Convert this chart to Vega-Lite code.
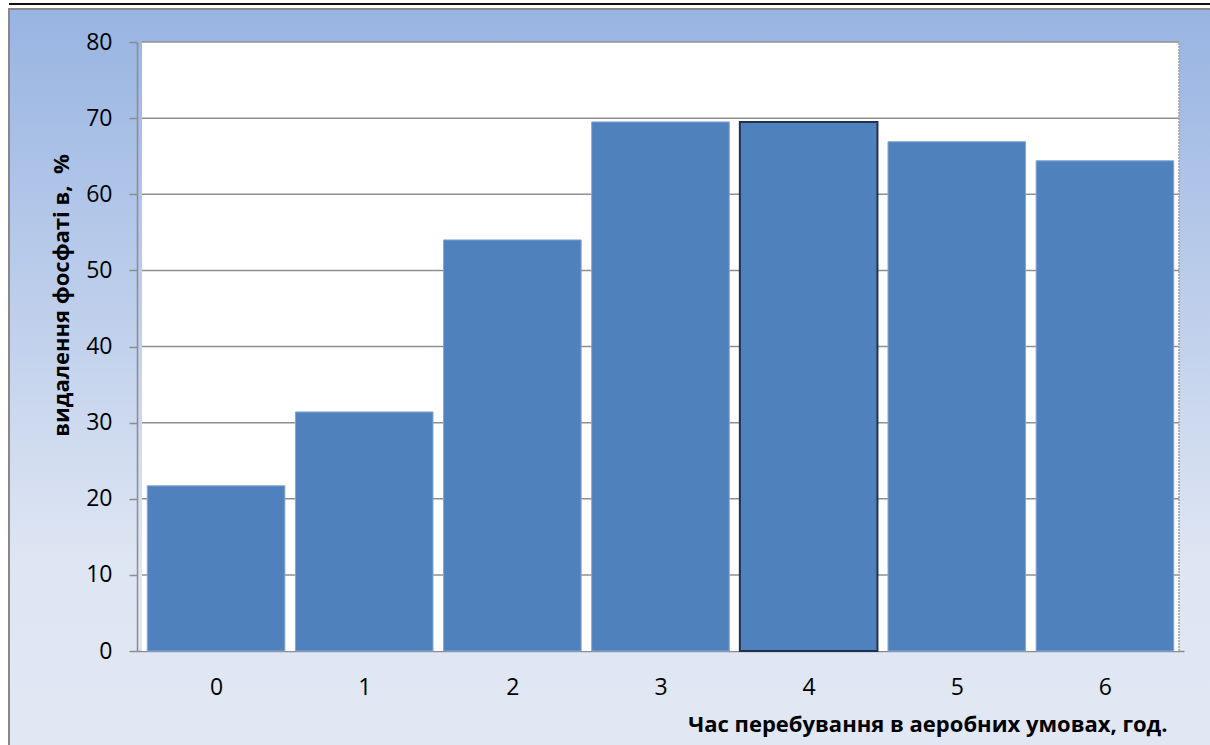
{
  "$schema": "https://vega.github.io/schema/vega-lite/v6.json",
  "width": 1210,
  "height": 745,
  "autosize": "none",
  "padding": {"left": 9, "top": 9, "right": 0, "bottom": 0},
  "background": "white",
  "datasets": {
    "removal": [
      {"hour": 0, "removal": 21.7},
      {"hour": 1, "removal": 31.4},
      {"hour": 2, "removal": 54.0},
      {"hour": 3, "removal": 69.5},
      {"hour": 4, "removal": 69.5},
      {"hour": 5, "removal": 66.9},
      {"hour": 6, "removal": 64.4}
    ],
    "gridlines": [
      {"level": 10}, {"level": 20}, {"level": 30}, {"level": 40},
      {"level": 50}, {"level": 60}, {"level": 70}, {"level": 80}
    ],
    "plotarea": [{"area": "plot"}]
  },
  "config": {
    "view": {
      "fill": {
        "gradient": "linear",
        "x1": 0, "y1": 0, "x2": 0, "y2": 1,
        "stops": [
          {"offset": 0, "color": "#98b4e2"},
          {"offset": 0.75, "color": "#dfe6f3"},
          {"offset": 1, "color": "#e1e8f4"}
        ]
      },
      "stroke": "#888888",
      "strokeWidth": 2
    },
    "font": "Open Sans"
  },
  "layer": [
    {
      "data": {"name": "plotarea"},
      "mark": {"type": "rect", "fill": "white", "stroke": null},
      "encoding": {
        "x": {"datum": -0.5, "type": "quantitative"},
        "x2": {"datum": 6.5},
        "y": {"datum": 0, "type": "quantitative"},
        "y2": {"datum": 80}
      }
    },
    {
      "data": {"name": "gridlines"},
      "mark": {"type": "rule", "color": "#8f8f8f", "strokeWidth": 1.5},
      "encoding": {
        "x": {"datum": -0.5, "type": "quantitative"},
        "x2": {"datum": 6.5},
        "y": {"field": "level", "type": "quantitative", "title": "видалення фосфаті в, \u00a0%"}
      }
    },
    {
      "data": {"name": "plotarea"},
      "mark": {"type": "rule", "color": "#a0a0a0", "strokeWidth": 1.5, "strokeDash": [2, 1]},
      "encoding": {
        "x": {"datum": 6.5, "type": "quantitative"},
        "y": {"datum": 0, "type": "quantitative"},
        "y2": {"datum": 80}
      }
    },
    {
      "data": {"name": "removal"},
      "mark": {"type": "bar", "width": 137.6, "fill": "#4f81bd"},
      "encoding": {
        "x": {
          "field": "hour",
          "type": "quantitative",
          "scale": {"domain": [-0.5, 6.5], "range": [128, 1175], "nice": false, "zero": false},
          "axis": {
            "title": "Час перебування в аеробних умовах, год.",
            "offset": -103,
            "grid": false,
            "values": [0, 1, 2, 3, 4, 5, 6],
            "format": "d",
            "ticks": false,
            "domainColor": "#8c8c8c",
            "domainWidth": 1.5,
            "labelFont": "Open Sans",
            "labelFontSize": 23,
            "labelColor": "black",
            "labelPadding": 25,
            "labelFlush": false,
            "labelOverlap": false,
            "titleFont": "Open Sans",
            "titleFontSize": 22,
            "titleFontWeight": "bold",
            "titleColor": "black",
            "titleX": 1158,
            "titleY": 80,
            "titleAlign": "right",
            "titleBaseline": "alphabetic",
            "titleAngle": 0
          }
        },
        "y": {
          "field": "removal",
          "type": "quantitative",
          "scale": {"domain": [0, 80], "range": [642, 33], "nice": false, "zero": true},
          "axis": {
            "title": "видалення фосфаті в, \u00a0%",
            "offset": -128,
            "grid": false,
            "values": [0, 10, 20, 30, 40, 50, 60, 70, 80],
            "domainColor": "#8c8c8c",
            "domainWidth": 1.5,
            "tickColor": "#8c8c8c",
            "tickSize": 8,
            "tickWidth": 1.5,
            "labelFont": "Open Sans",
            "labelFontSize": 23,
            "labelColor": "black",
            "labelPadding": 17,
            "labelFlush": false,
            "labelOverlap": false,
            "titleFont": "Open Sans",
            "titleFontSize": 22,
            "titleFontWeight": "bold",
            "titleColor": "black",
            "titleX": -76,
            "titleY": 286,
            "titleAlign": "center",
            "titleBaseline": "middle",
            "titleAngle": 270
          }
        },
        "stroke": {"condition": {"test": "datum.hour === 4", "value": "#1f3050"}, "value": "#86a6d4"},
        "strokeWidth": {"condition": {"test": "datum.hour === 4", "value": 2}, "value": 1}
      }
    },
    {
      "data": {"name": "plotarea"},
      "mark": {"type": "rule", "color": "#111111", "strokeWidth": 2},
      "encoding": {
        "y": {"datum": 85, "type": "quantitative"}
      }
    }
  ]
}
